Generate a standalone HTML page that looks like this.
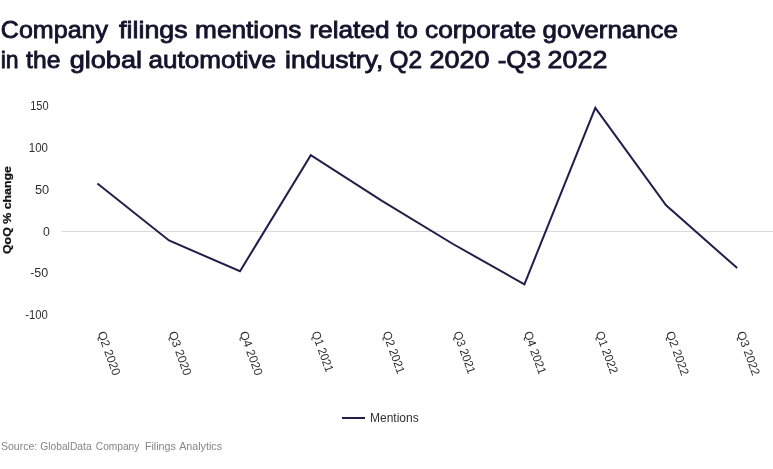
<!DOCTYPE html>
<html><head><meta charset="utf-8">
<style>
html,body{margin:0;padding:0;background:#fff;}
body{width:773px;height:469px;overflow:hidden;position:relative;font-family:"Liberation Sans",sans-serif;}
svg{position:absolute;left:0;top:0;}
text{font-family:"Liberation Sans",sans-serif;}
</style></head><body>
<svg width="773" height="469" viewBox="0 0 773 469">
<g id="title" font-size="24.3" fill="#13132c" stroke="#13132c" stroke-width="0.85">
<text x="0.79" y="37.8" textLength="107.30" lengthAdjust="spacingAndGlyphs">Company</text>
<text x="119.12" y="37.8" textLength="68.51" lengthAdjust="spacingAndGlyphs">filings</text>
<text x="195.05" y="37.8" textLength="106.39" lengthAdjust="spacingAndGlyphs">mentions</text>
<text x="309.24" y="37.8" textLength="80.47" lengthAdjust="spacingAndGlyphs">related</text>
<text x="396.43" y="37.8" textLength="21.60" lengthAdjust="spacingAndGlyphs">to</text>
<text x="425.04" y="37.8" textLength="110.99" lengthAdjust="spacingAndGlyphs">corporate</text>
<text x="542.56" y="37.8" textLength="135.46" lengthAdjust="spacingAndGlyphs">governance</text>
<text x="0.68" y="68.0" textLength="17.93" lengthAdjust="spacingAndGlyphs">in</text>
<text x="26.12" y="68.0" textLength="34.27" lengthAdjust="spacingAndGlyphs">the</text>
<text x="69.71" y="68.0" textLength="72.32" lengthAdjust="spacingAndGlyphs">global</text>
<text x="148.55" y="68.0" textLength="127.47" lengthAdjust="spacingAndGlyphs">automotive</text>
<text x="285.03" y="68.0" textLength="98.36" lengthAdjust="spacingAndGlyphs">industry,</text>
<text x="389.42" y="68.0" textLength="32.57" lengthAdjust="spacingAndGlyphs">Q2</text>
<text x="429.51" y="68.0" textLength="60.13" lengthAdjust="spacingAndGlyphs">2020</text>
<text x="497.65" y="68.0" textLength="43.37" lengthAdjust="spacingAndGlyphs">-Q3</text>
<text x="547.62" y="68.0" textLength="59.72" lengthAdjust="spacingAndGlyphs">2022</text>
</g>
<line x1="61.5" y1="231.5" x2="773" y2="231.5" stroke="#d9d9d9" stroke-width="1"/>
<g id="ylab" font-size="12" fill="#303030">
<text x="30.20" y="109.6" textLength="18.40" lengthAdjust="spacingAndGlyphs">150</text>
<text x="28.80" y="151.5" textLength="19.09" lengthAdjust="spacingAndGlyphs">100</text>
<text x="35.00" y="193.5" textLength="14.25" lengthAdjust="spacingAndGlyphs">50</text>
<text x="43.10" y="235.5" textLength="6.86" lengthAdjust="spacingAndGlyphs">0</text>
<text x="30.20" y="276.7" textLength="18.06" lengthAdjust="spacingAndGlyphs">-50</text>
<text x="25.30" y="318.5" textLength="22.59" lengthAdjust="spacingAndGlyphs">-100</text>
</g>
<text id="ytitle" transform="translate(10.7,254) rotate(-90)" font-size="11.3" font-weight="bold" fill="#111" stroke="#111" stroke-width="0.25" textLength="88" lengthAdjust="spacingAndGlyphs">QoQ % change</text>
<polyline fill="none" stroke="#1f1f4a" stroke-width="2" stroke-linejoin="miter" points="97.4,183.5 169,240.5 240,271.2 310.8,155.2 382,200.8 453,244 524.4,284.3 595.3,107.8 666.1,205.3 737.2,268.1"/>
<g id="xlab" font-size="12" fill="#303030">
<text transform="translate(97.4,333) rotate(70)" textLength="46.04" lengthAdjust="spacingAndGlyphs">Q2 2020</text>
<text transform="translate(168.4,333) rotate(70)" textLength="46.04" lengthAdjust="spacingAndGlyphs">Q3 2020</text>
<text transform="translate(239.5,333) rotate(70)" textLength="46.04" lengthAdjust="spacingAndGlyphs">Q4 2020</text>
<text transform="translate(311.5,333) rotate(70)" textLength="42.35" lengthAdjust="spacingAndGlyphs">Q1 2021</text>
<text transform="translate(382.4,333) rotate(70)" textLength="44.20" lengthAdjust="spacingAndGlyphs">Q2 2021</text>
<text transform="translate(453.2,333) rotate(70)" textLength="44.20" lengthAdjust="spacingAndGlyphs">Q3 2021</text>
<text transform="translate(523.7,333) rotate(70)" textLength="44.66" lengthAdjust="spacingAndGlyphs">Q4 2021</text>
<text transform="translate(595.5,333) rotate(70)" textLength="44.20" lengthAdjust="spacingAndGlyphs">Q1 2022</text>
<text transform="translate(665.8,333) rotate(70)" textLength="46.04" lengthAdjust="spacingAndGlyphs">Q2 2022</text>
<text transform="translate(736.8,333) rotate(70)" textLength="46.04" lengthAdjust="spacingAndGlyphs">Q3 2022</text>
</g>
<line x1="342" y1="418" x2="365" y2="418" stroke="#1f1f4a" stroke-width="2"/>
<text id="leg" x="370" y="422" font-size="12" fill="#303030">Mentions</text>
<g id="src" font-size="10.7" fill="#858585">
<text x="0.90" y="449.5" textLength="36.36" lengthAdjust="spacingAndGlyphs">Source:</text>
<text x="40.20" y="449.5" textLength="51.45" lengthAdjust="spacingAndGlyphs">GlobalData</text>
<text x="95.80" y="449.5" textLength="43.48" lengthAdjust="spacingAndGlyphs">Company</text>
<text x="144.90" y="449.5" textLength="31.05" lengthAdjust="spacingAndGlyphs">Filings</text>
<text x="179.20" y="449.5" textLength="42.84" lengthAdjust="spacingAndGlyphs">Analytics</text>
</g>
</svg>
</body></html>
